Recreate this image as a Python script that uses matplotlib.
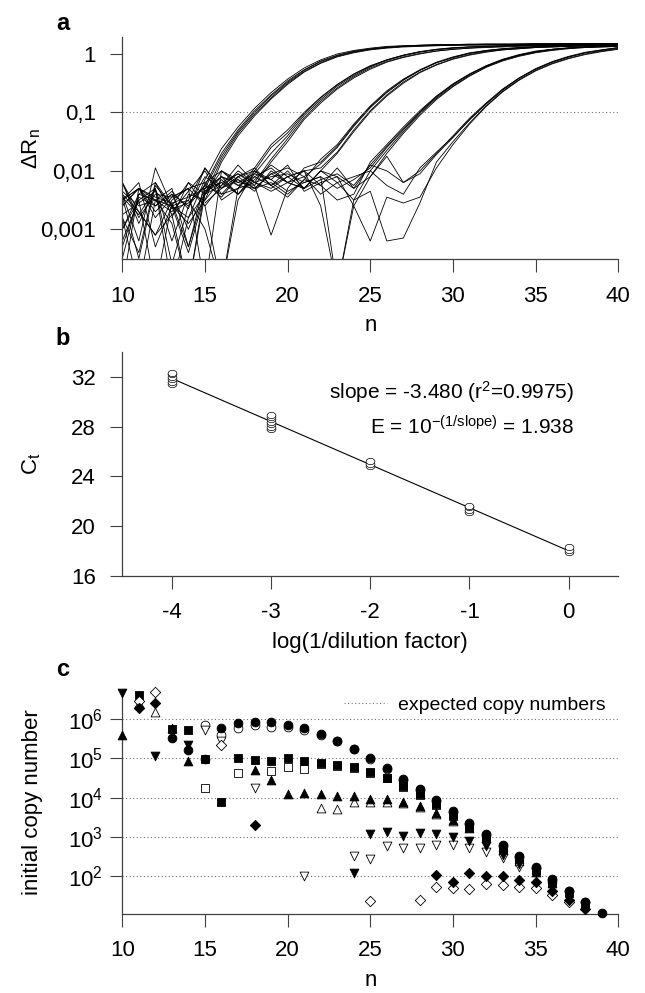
import numpy as np
import matplotlib
matplotlib.use("Agg")
import matplotlib.pyplot as plt
from matplotlib.path import Path

# ---------------- data ----------------
# panel a: log10(delta Rn) per cycle n = 10..40, five dilutions, None = no value (negative)
cycles_a = np.arange(10, 41)
threshold = 0.1

curves_d0 = [
    [-2.2, -2.9, -2.3, -3.6, -2.6, -2.25, -1.70, -1.30, -0.97, -0.70, -0.46, -0.27, -0.12, -0.02, 0.05, 0.09, 0.12, 0.14, 0.15, 0.16, 0.16, 0.17, 0.17, 0.17, 0.17, 0.18, 0.18, 0.18, 0.18, 0.18, 0.18],
    [-2.5, -2.2, -3.3, -2.6, -2.8, -2.15, -1.62, -1.25, -0.93, -0.66, -0.43, -0.24, -0.10, 0.00, 0.06, 0.10, 0.13, 0.14, 0.15, 0.16, 0.16, 0.16, 0.17, 0.17, 0.17, 0.17, 0.17, 0.18, 0.18, 0.18, 0.18],
    [-2.8, -4.0, -2.5, -2.6, -3.4, -2.4, -1.80, -1.36, -1.03, -0.75, -0.50, -0.30, -0.15, -0.04, 0.03, 0.08, 0.11, 0.13, 0.14, 0.15, 0.15, 0.16, 0.16, 0.16, 0.17, 0.17, 0.17, 0.17, 0.17, 0.17, 0.17],
    [-3.5, -2.4, -2.2, -2.75, -4.0, -2.3, -1.75, -1.33, -1.00, -0.72, -0.48, -0.28, -0.13, -0.03, 0.04, 0.08, 0.11, 0.13, 0.14, 0.15, 0.15, 0.16, 0.16, 0.16, 0.16, 0.17, 0.17, 0.17, 0.17, 0.17, 0.17],
    [-2.4, -3.2, -1.95, -2.6, -2.9, -2.5, -1.85, -1.40, -1.06, -0.77, -0.52, -0.31, -0.16, -0.05, 0.02, 0.07, 0.10, 0.12, 0.13, 0.14, 0.15, 0.15, 0.15, 0.16, 0.16, 0.16, 0.16, 0.16, 0.16, 0.16, 0.16],
]
curves_d1 = [
    [-2.6, -2.3, -2.45, -2.55, -3.3, -2.35, -2.1, -2.2, -2.05, -1.70, -1.40, -1.05, -0.78, -0.55, -0.37, -0.22, -0.11, -0.03, 0.03, 0.07, 0.10, 0.12, 0.13, 0.14, 0.15, 0.15, 0.16, 0.16, 0.16, 0.17, 0.17],
    [-3.0, -2.4, -2.5, -2.7, -2.35, -2.0, -2.5, -2.3, -2.2, -1.80, -1.45, -1.09, -0.81, -0.58, -0.39, -0.24, -0.13, -0.05, 0.01, 0.05, 0.08, 0.10, 0.12, 0.13, 0.14, 0.14, 0.15, 0.15, 0.15, 0.16, 0.16],
    [-2.45, -3.5, -2.25, -2.6, -2.2, -2.6, -4.0, -2.5, -2.0, -1.6, -1.35, -1.02, -0.75, -0.53, -0.35, -0.21, -0.10, -0.02, 0.04, 0.08, 0.10, 0.12, 0.13, 0.14, 0.15, 0.15, 0.15, 0.16, 0.16, 0.16, 0.16],
    [-4.0, -2.3, -2.6, -2.4, -3.0, -2.3, -2.2, -2.05, -2.25, -1.85, -1.5, -1.12, -0.84, -0.60, -0.41, -0.26, -0.14, -0.06, 0.00, 0.05, 0.08, 0.10, 0.11, 0.12, 0.13, 0.14, 0.14, 0.15, 0.15, 0.15, 0.15],
    [-2.2, -2.7, -3.1, -2.75, -2.5, -1.95, -2.4, -2.1, -1.95, -1.55, -1.3, -1.0, -0.74, -0.52, -0.34, -0.20, -0.10, -0.02, 0.04, 0.08, 0.11, 0.12, 0.13, 0.14, 0.15, 0.16, 0.16, 0.16, 0.17, 0.17, 0.17],
]
curves_d2 = [
    [-2.4, -2.7, -3.1, -2.5, -2.3, -2.2, -2.0, -2.15, -2.3, -2.05, -1.95, -2.1, -1.88, -1.6, -1.24, -0.92, -0.66, -0.45, -0.28, -0.15, -0.06, 0.01, 0.06, 0.09, 0.11, 0.12, 0.13, 0.14, 0.15, 0.15, 0.15],
    [-2.6, -2.3, -2.5, -2.9, -4.0, -2.4, -2.25, -1.9, -2.2, -2.35, -2.2, -2.0, -1.95, -1.68, -1.3, -0.97, -0.70, -0.48, -0.31, -0.18, -0.08, -0.01, 0.04, 0.07, 0.09, 0.11, 0.12, 0.13, 0.14, 0.14, 0.14],
    [-3.3, -2.45, -2.6, -2.35, -2.65, -1.95, -2.3, -2.1, -2.0, -2.25, -2.45, -2.15, -1.8, -1.55, -1.2, -0.89, -0.63, -0.43, -0.27, -0.14, -0.05, 0.02, 0.06, 0.09, 0.11, 0.13, 0.14, 0.14, 0.15, 0.15, 0.16],
    [-3.0, -2.5, -4.0, -2.55, -2.45, -2.3, -2.1, -2.4, -2.15, -1.9, -2.1, -2.3, -2.0, -1.7, -1.33, -0.99, -0.72, -0.50, -0.32, -0.19, -0.09, -0.02, 0.03, 0.07, 0.09, 0.11, 0.12, 0.13, 0.13, 0.14, 0.14],
    [-2.2, -2.8, -2.4, -2.45, -2.3, -4.0, -2.0, -2.2, -2.25, -3.1, -2.3, -1.95, -1.85, -1.58, -1.22, -0.90, -0.65, -0.44, -0.28, -0.15, -0.06, 0.01, 0.05, 0.08, 0.10, 0.12, 0.13, 0.14, 0.14, 0.15, 0.15],
]
curves_d3 = [
    [-2.5, -2.3, -2.7, -2.4, -2.6, -2.1, -2.3, -2.0, -2.2, -2.1, -2.05, -2.2, -2.1, -2.3, -2.15, -1.95, -1.6, -1.3, -1.0, -0.74, -0.53, -0.35, -0.21, -0.10, -0.02, 0.04, 0.08, 0.10, 0.12, 0.13, 0.14],
    [None, None, None, -2.8, -2.2, -2.4, -2.0, -2.25, -2.1, -1.95, -2.2, -2.3, -2.0, -2.1, -2.6, -2.1, -1.7, -1.36, -1.05, -0.78, -0.56, -0.38, -0.23, -0.12, -0.04, 0.02, 0.06, 0.09, 0.11, 0.12, 0.13],
    [-2.35, -2.6, -2.5, -2.3, -3.3, -2.2, -2.45, -2.1, -2.3, -2.2, -2.4, -2.15, -2.25, -2.5, -2.4, -1.85, -1.55, -1.25, -0.97, -0.72, -0.51, -0.34, -0.20, -0.09, -0.01, 0.05, 0.08, 0.11, 0.12, 0.13, 0.14],
    [-2.8, -3.4, -2.2, -2.6, -2.5, -3.0, -4.0, -2.3, -1.95, -2.25, -2.1, -2.0, -2.6, -4.0, -2.5, -2.0, -1.65, -1.33, -1.02, -0.76, -0.55, -0.37, -0.22, -0.11, -0.03, 0.03, 0.07, 0.10, 0.11, 0.12, 0.13],
    [-2.45, -2.75, -2.3, -3.2, -2.4, -2.5, -2.15, -2.4, -2.05, -2.15, -1.9, -2.35, -2.2, -2.1, -2.3, -1.9, -1.58, -1.28, -0.99, -0.73, -0.52, -0.35, -0.21, -0.10, -0.02, 0.04, 0.08, 0.10, 0.12, 0.13, 0.14],
]
curves_d4 = [
    [None, None, None, None, None, -2.35, -2.2, -2.4, -2.1, -2.25, -2.0, -2.3, -2.15, -2.05, -2.25, -1.9, -2.0, -2.2, -2.05, -1.72, -1.43, -1.13, -0.86, -0.62, -0.42, -0.26, -0.14, -0.05, 0.02, 0.07, 0.11],
    [None, None, None, None, None, -2.55, -2.3, -2.15, -2.35, -2.0, -2.2, -2.1, -2.4, -2.2, -2.5, -2.35, -3.2, -3.15, -2.55, -1.85, -1.5, -1.18, -0.89, -0.64, -0.44, -0.28, -0.16, -0.07, 0.00, 0.05, 0.09],
    [-2.5, -2.3, -2.8, -2.45, -2.3, -2.6, -2.25, -2.05, -2.2, -2.3, -2.1, -2.0, -2.25, -1.95, -2.3, -2.1, -1.75, -2.2, -2.0, -1.7, -1.4, -1.1, -0.84, -0.60, -0.41, -0.25, -0.13, -0.04, 0.03, 0.07, 0.11],
    [-2.75, -2.55, -2.35, -2.65, -2.55, -2.25, -2.4, -2.3, -2.0, -2.15, -2.35, -2.2, -2.1, -4.0, -2.6, -3.2, -2.45, -2.55, -2.45, -1.95, -1.55, -1.2, -0.9, -0.65, -0.45, -0.29, -0.17, -0.08, -0.01, 0.04, 0.08],
    [-3.2, -2.5, -2.3, -4.0, -2.8, -2.4, -2.1, -2.25, -2.3, -2.05, -2.2, -2.3, -2.0, -2.2, -2.1, -2.0, -2.25, -2.4, -1.95, -1.68, -1.42, -1.12, -0.85, -0.61, -0.41, -0.26, -0.14, -0.05, 0.02, 0.06, 0.10],
]

# panel b: threshold cycle per log(1/dilution factor)
dilution_log = [-4, -4, -4, -4, -4, -4,
                -3, -3, -3, -3, -3, -3, -3,
                -2, -2, -2,
                -1, -1, -1, -1,
                0, 0, 0]
ct_values = [31.4, 31.6, 31.8, 32.0, 32.2, 32.3,
             27.8, 28.0, 28.2, 28.4, 28.6, 28.8, 28.9,
             24.8, 25.0, 25.2,
             21.1, 21.3, 21.5, 21.6,
             17.9, 18.1, 18.3]

# panel c: log10(initial copy number) estimated at each cycle n
circ_f_n = [13, 14, 15, 16, 17, 18, 19, 20, 21, 22, 23, 24, 25, 26, 27, 28, 29, 30, 31, 32, 33, 34, 35, 36, 37, 38, 39]
circ_f_v = [5.53, 5.22, 4.98, 5.76, 5.89, 5.93, 5.92, 5.86, 5.76, 5.61, 5.45, 5.24, 5.0, 4.76, 4.47, 4.21, 3.93, 3.65, 3.35, 3.08, 2.79, 2.51, 2.24, 1.93, 1.64, 1.36, 1.07]
circ_o_n = [15, 16, 17, 18, 19, 20, 21, 22, 23, 24, 25, 26, 27, 28, 29, 30, 31, 32, 33, 34, 35, 36, 37, 38]
circ_o_v = [5.86, 5.59, 5.76, 5.85, 5.81, 5.81, 5.72, 5.60, 5.44, 5.23, 4.98, 4.74, 4.45, 4.19, 3.91, 3.63, 3.33, 3.06, 2.77, 2.49, 2.22, 1.91, 1.62, 1.34]
sq_f_n = [11, 13, 14, 15, 16, 17, 18, 19, 20, 21, 22, 23, 24, 25, 26, 27, 28, 29, 30, 31, 32, 33, 34, 35, 36, 37, 38]
sq_f_v = [6.61, 5.75, 5.72, 4.98, 3.90, 5.0, 4.96, 4.94, 5.0, 4.93, 4.89, 4.83, 4.77, 4.66, 4.51, 4.30, 4.10, 3.84, 3.56, 3.27, 3.0, 2.72, 2.42, 2.17, 1.87, 1.58, 1.30]
sq_o_n = [15, 17, 19, 20, 21, 22, 23, 24, 25, 26, 27, 28, 29, 30, 31, 32, 33, 34, 35]
sq_o_v = [4.24, 4.64, 4.69, 4.77, 4.72, 4.85, 4.81, 4.75, 4.64, 4.49, 4.28, 4.08, 3.82, 3.54, 3.25, 2.98, 2.70, 2.40, 2.15]
up_f_n = [10, 13, 14, 18, 19, 20, 21, 22, 23, 24, 25, 26, 27, 28, 29, 30, 31, 32, 33, 34, 35, 36]
up_f_v = [5.59, 5.78, 4.93, 4.71, 4.45, 4.09, 4.11, 4.09, 4.05, 4.05, 3.96, 3.97, 3.88, 3.78, 3.61, 3.44, 3.24, 2.97, 2.68, 2.38, 2.12, 1.84]
up_o_n = [11, 12, 22, 23, 24, 25, 26, 27, 28, 29, 30]
up_o_v = [6.40, 6.17, 3.75, 3.71, 3.90, 3.88, 3.88, 3.86, 3.76, 3.59, 3.42]
dn_f_n = [10, 12, 14, 24, 25, 26, 27, 28, 29, 30, 31, 32, 33, 34, 35, 36, 37, 38]
dn_f_v = [6.67, 5.06, 5.35, 2.08, 3.08, 3.14, 3.03, 3.10, 3.08, 3.01, 2.89, 2.76, 2.55, 2.31, 2.10, 1.76, 1.52, 1.25]
dn_o_n = [15, 16, 18, 21, 24, 25, 26, 27, 28, 29, 30, 31, 32, 33, 34, 35, 36]
dn_o_v = [5.72, 5.45, 4.24, 2.02, 2.51, 2.45, 2.76, 2.72, 2.72, 2.80, 2.79, 2.72, 2.63, 2.46, 2.25, 2.08, 1.74]
dia_f_n = [11, 12, 18, 29, 30, 31, 32, 33, 34, 35, 36, 37, 38]
dia_f_v = [6.28, 6.40, 3.31, 2.04, 1.87, 2.08, 2.02, 2.02, 1.91, 1.87, 1.62, 1.41, 1.17]
dia_o_n = [11, 12, 16, 25, 28, 29, 30, 31, 32, 33, 34, 35, 36, 37]
dia_o_v = [6.45, 6.68, 5.34, 1.38, 1.39, 1.72, 1.70, 1.68, 1.80, 1.79, 1.74, 1.70, 1.53, 1.36]

expected_copies = [1e2, 1e3, 1e4, 1e5, 1e6]

# ---------------- figure ----------------
plt.rcParams['font.family'] = ['Liberation Sans', 'DejaVu Sans']
plt.rcParams['mathtext.default'] = 'regular'
plt.rcParams['axes.unicode_minus'] = False
plt.rcParams['font.size'] = 15

TICK_FS = 16
LAB_FS = 16

fig = plt.figure(figsize=(6.45, 9.93), dpi=100)
ax_a = fig.add_axes([0.1896, 0.7389, 0.769, 0.2238])
ax_b = fig.add_axes([0.1896, 0.4200, 0.769, 0.2256])
ax_c = fig.add_axes([0.1896, 0.0796, 0.769, 0.2256])

dotted = dict(color='0.45', lw=0.8, ls=(0, (1, 2.2)))

# flat open ring used for the Ct points
t = np.linspace(0, 2 * np.pi, 40)
ring = Path(np.column_stack([np.cos(t), 0.72 * np.sin(t)]), closed=True)


def style(ax, ypad):
    for s in ['top', 'right']:
        ax.spines[s].set_visible(False)
    for s in ['left', 'bottom']:
        ax.spines[s].set_linewidth(0.9)
        ax.spines[s].set_color('0.25')
    ax.tick_params(direction='out', length=9, width=0.8, color='0.25', labelsize=TICK_FS)
    ax.tick_params(axis='x', pad=10)
    ax.tick_params(axis='y', pad=ypad)
    ax.minorticks_off()


# a
for grp in [curves_d0, curves_d1, curves_d2, curves_d3, curves_d4]:
    for c in grp:
        v = np.array(c, dtype=float)
        ax_a.plot(cycles_a[:len(v)], 10 ** v, color='black', lw=0.6)
ax_a.axhline(threshold, **dotted)
ax_a.set_yscale('log')
ax_a.set_xlim(10, 40)
ax_a.set_ylim(10 ** -3.513, 10 ** 0.29)
ax_a.set_xticks([10, 15, 20, 25, 30, 35, 40])
ax_a.set_yticks([0.001, 0.01, 0.1, 1])
ax_a.set_yticklabels(['0,001', '0,01', '0,1', '1'])
style(ax_a, 10)
ax_a.set_xlabel('n', fontsize=LAB_FS, labelpad=6)
ax_a.set_ylabel(r'$\Delta R_n$', fontsize=LAB_FS)
ax_a.yaxis.set_label_coords(-0.16, 0.5)

# b
ax_b.scatter(dilution_log, ct_values, s=40, marker=ring, facecolors='white', edgecolors='black',
             linewidths=0.5, zorder=3)
slope, icpt = np.polyfit(dilution_log, ct_values, 1)
fit_x = np.array([-4, 0])
ax_b.plot(fit_x, slope * fit_x + icpt, color='black', lw=0.8, zorder=2)
ax_b.text(0.05, 30.8, 'slope = -3.480 (r$^2$=0.9975)', ha='right', va='center', fontsize=15)
ax_b.text(0.05, 28.0, 'E = 10$^{-(1/slope)}$ = 1.938', ha='right', va='center', fontsize=15)
ax_b.set_xlim(-4.5, 0.5)
ax_b.set_ylim(16, 34)
ax_b.set_xticks([-4, -3, -2, -1, 0])
ax_b.set_yticks([16, 20, 24, 28, 32])
style(ax_b, 10)
ax_b.set_xlabel('log(1/dilution factor)', fontsize=LAB_FS, labelpad=6)
ax_b.set_ylabel('C$_t$', fontsize=LAB_FS)
ax_b.yaxis.set_label_coords(-0.16, 0.5)

# c
for i, e in enumerate(expected_copies):
    ax_c.axhline(e, label='expected copy numbers' if i == 0 else None, **dotted)
series = [
    (circ_o_n, circ_o_v, 'o', 'white'), (circ_f_n, circ_f_v, 'o', 'black'),
    (sq_o_n, sq_o_v, 's', 'white'), (sq_f_n, sq_f_v, 's', 'black'),
    (up_o_n, up_o_v, '^', 'white'), (up_f_n, up_f_v, '^', 'black'),
    (dn_o_n, dn_o_v, 'v', 'white'), (dn_f_n, dn_f_v, 'v', 'black'),
    (dia_o_n, dia_o_v, 'D', 'white'), (dia_f_n, dia_f_v, 'D', 'black'),
]
for xs, vs, m, fc in series:
    size = 28 if m in ('s', 'D') else 40
    ax_c.scatter(xs, 10 ** np.array(vs), marker=m, s=size, facecolors=fc,
                 edgecolors='black', linewidths=0.6, zorder=3, clip_on=False)
ax_c.set_yscale('log')
ax_c.set_xlim(10, 40)
ax_c.set_ylim(10 ** 1.045, 10 ** 6.74)
ax_c.set_xticks([10, 15, 20, 25, 30, 35, 40])
ax_c.set_yticks(expected_copies)
ax_c.set_yticklabels(['10$^2$', '10$^3$', '10$^4$', '10$^5$', '10$^6$'])
style(ax_c, 5)
ax_c.set_xlabel('n', fontsize=LAB_FS, labelpad=6)
ax_c.set_ylabel('initial copy number', fontsize=LAB_FS)
ax_c.yaxis.set_label_coords(-0.16, 0.5)
ax_c.legend(loc='center right', bbox_to_anchor=(0.975, 0.933), frameon=False,
            borderpad=0, borderaxespad=0, handlelength=2.2, handletextpad=0.6, fontsize=14)

for lab, yy in [('a', 23), ('b', 339), ('c', 670)]:
    fig.text(63 / 645, 1 - yy / 993, lab, fontsize=17, fontweight='bold', ha='center', va='center')

fig.savefig('out.png', dpi=100)
